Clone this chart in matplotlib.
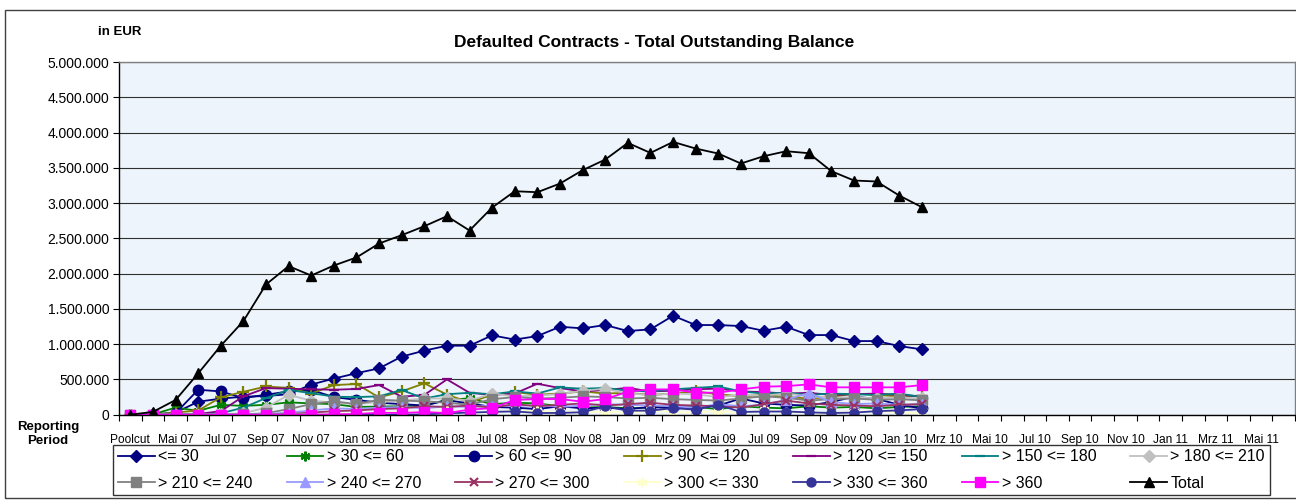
import numpy as np
import matplotlib
matplotlib.use("Agg")
import matplotlib.pyplot as plt
from matplotlib.patches import Rectangle
from matplotlib.ticker import FuncFormatter

plt.rcParams['font.family'] = ['Liberation Sans', 'DejaVu Sans']

# category axis: 52 reporting periods, every second one labelled
n_periods = 52
tick_labels = ["Poolcut", "Mai 07", "Jul 07", "Sep 07", "Nov 07", "Jan 08", "Mrz 08",
               "Mai 08", "Jul 08", "Sep 08", "Nov 08", "Jan 09", "Mrz 09", "Mai 09",
               "Jul 09", "Sep 09", "Nov 09", "Jan 10", "Mrz 10", "Mai 10", "Jul 10",
               "Sep 10", "Nov 10", "Jan 11", "Mrz 11", "Mai 11"]

# outstanding balance per bucket (in thousand EUR), Poolcut .. Feb 10
le_30 = [0, 5, 30, 184, 228, 255, 265, 290, 428, 512, 588, 657, 824, 908, 978, 978, 1125, 1065,
         1115, 1247, 1224, 1271, 1186, 1210, 1403, 1271, 1271, 1257, 1190, 1247, 1129, 1129,
         1044, 1044, 973, 926]
b30_60 = [0, 5, 100, 55, 140, 125, 140, 175, 160, 150, 110, 115, 120, 130, 210, 232, 150, 170,
          160, 120, 100, 110, 90, 100, 130, 110, 80, 120, 100, 90, 120, 100, 110, 90, 110, 120]
b60_90 = [0, 0, 20, 354, 330, 236, 283, 330, 350, 250, 210, 170, 150, 130, 205, 160, 110, 100,
          80, 120, 90, 100, 80, 110, 90, 100, 130, 230, 160, 140, 130, 180, 255, 225, 140, 90]
b90_120 = [0, 0, 30, 60, 245, 325, 400, 380, 300, 420, 435, 245, 330, 445, 285, 175, 280, 321,
           283, 300, 330, 300, 310, 280, 300, 330, 290, 260, 280, 250, 230, 250, 300, 280, 260, 270]
b120_150 = [0, 0, 0, 10, 50, 260, 377, 368, 360, 354, 365, 420, 255, 280, 500, 311, 280, 300,
            439, 377, 330, 350, 380, 330, 340, 360, 370, 330, 320, 300, 310, 280, 290, 300, 280, 260]
b150_180 = [0, 0, 0, 5, 20, 100, 236, 350, 306, 255, 250, 260, 350, 230, 290, 311, 290, 330,
            300, 387, 368, 380, 340, 330, 360, 380, 400, 330, 300, 310, 280, 300, 290, 280, 300, 250]
b180_210 = [0, 0, 0, 0, 5, 20, 100, 280, 200, 170, 150, 180, 200, 230, 230, 200, 300, 260,
            270, 292, 340, 368, 300, 280, 300, 290, 250, 280, 270, 300, 260, 240, 250, 230, 245, 230]
b210_240 = [0, 0, 0, 0, 0, 5, 20, 80, 150, 190, 150, 212, 200, 190, 170, 140, 220, 250,
            230, 240, 260, 250, 230, 240, 220, 210, 200, 230, 260, 240, 200, 220, 230, 210, 220, 203]
b240_270 = [0, 0, 0, 0, 0, 0, 10, 30, 60, 90, 80, 100, 110, 90, 120, 110, 130, 120,
            140, 110, 130, 150, 140, 130, 120, 100, 150, 120, 140, 212, 307, 180, 150, 160, 140, 150]
b270_300 = [0, 0, 0, 0, 0, 0, 0, 10, 30, 50, 60, 80, 90, 120, 110, 130, 100, 150,
            120, 140, 160, 130, 150, 170, 140, 130, 120, 100, 150, 200, 160, 140, 130, 120, 140, 150]
b300_330 = [0, 0, 0, 0, 0, 0, 0, 0, 5, 10, 20, 30, 40, 30, 50, 40, 30, 60,
            50, 40, 30, 50, 20, 60, 40, 30, 50, 20, 60, 40, 30, 20, 40, 50, 30, 20]
b330_360 = [0, 0, 0, 0, 0, 0, 0, 0, 0, 0, 0, 0, 0, 5, 20, 30, 40, 47,
            24, 25, 35, 118, 57, 57, 94, 71, 142, 38, 45, 45, 33, 24, 30, 50, 61, 80]
gt_360 = [0, 0, 0, 0, 0, 0, 0, 0, 0, 5, 10, 28, 24, 38, 24, 71, 94, 208,
          222, 222, 184, 222, 326, 359, 359, 312, 312, 359, 397, 405, 430, 388, 388, 388, 388, 420]
total = [0, 40, 208, 585, 977, 1327, 1846, 2106, 1973, 2115, 2229, 2427, 2545, 2672, 2814, 2611,
         2937, 3168, 3154, 3277, 3466, 3617, 3853, 3711, 3867, 3773, 3702, 3561, 3664, 3735, 3707,
         3452, 3320, 3306, 3107, 2942]

series = [
    ("<= 30", le_30, "#000080", "D", 6),
    ("> 30 <= 60", b30_60, "#008000", (6, 2, 0), 7),
    ("> 60 <= 90", b60_90, "#000080", "o", 7.5),
    ("> 90 <= 120", b90_120, "#808000", "+", 8),
    ("> 120 <= 150", b120_150, "#800080", "_", 7),
    ("> 150 <= 180", b150_180, "#008080", "_", 7),
    ("> 180 <= 210", b180_210, "#C0C0C0", "D", 6),
    ("> 210 <= 240", b210_240, "#808080", "s", 6.5),
    ("> 240 <= 270", b240_270, "#9999FF", "^", 7),
    ("> 270 <= 300", b270_300, "#993366", "x", 6),
    ("> 300 <= 330", b300_330, "#FFFFCC", (6, 2, 0), 7),
    ("> 330 <= 360", b330_360, "#333399", "o", 6.5),
    ("> 360", gt_360, "#FF00FF", "s", 7),
    ("Total", total, "#000000", "^", 7.5),
]

fig = plt.figure(figsize=(12.96, 5.04), dpi=100)
ax = fig.add_axes([119 / 1296, 89.3 / 504, 1176 / 1296, 352.7 / 504])
ax.set_facecolor("#EDF4FB")

handles = []
for name, vals, col, mk, ms in series:
    x = np.arange(len(vals))
    y = np.array(vals) * 1000
    mew = 1.6 if mk in ("+", "x", "_") or isinstance(mk, tuple) else 1
    h, = ax.plot(x, y, color=col, marker=mk, markersize=ms, markerfacecolor=col,
                 markeredgecolor=col, markeredgewidth=mew, lw=1.3, label=name)
    handles.append(h)

ax.set_xlim(-0.5, n_periods - 0.5)
ax.set_ylim(0, 5000000)
ax.set_yticks(np.arange(0, 5000001, 500000))
ax.yaxis.set_major_formatter(FuncFormatter(lambda v, p: f"{v:,.0f}".replace(",", ".")))
ax.grid(axis="y", color="#303030", lw=0.8)
ax.set_axisbelow(True)

ax.set_xticks(np.arange(0, n_periods, 2))
ax.set_xticklabels(tick_labels)
ax.set_xticks(np.arange(-0.5, n_periods, 1), minor=True)
ax.tick_params(axis="x", which="major", length=0, pad=14, labelsize=8.6)
ax.tick_params(axis="x", which="minor", length=4, width=0.8, direction="out")
ax.tick_params(axis="y", length=4, width=0.8, labelsize=10, pad=3)

for s in ("left", "bottom"):
    ax.spines[s].set_color("black")
    ax.spines[s].set_linewidth(1)
for s in ("top", "right"):
    ax.spines[s].set_color("#808080")
    ax.spines[s].set_linewidth(1)

fig.text(654 / 1296, 1 - 42 / 504, "Defaulted Contracts - Total Outstanding Balance",
         ha="center", va="center", fontsize=12.5, fontweight="bold")
fig.text(120 / 1296, 1 - 32 / 504, "in EUR", ha="center", va="center",
         fontsize=9.5, fontweight="bold")
fig.text(48 / 1296, 1 - 434 / 504, "Reporting\nPeriod", ha="center", va="center",
         fontsize=9.5, fontweight="bold", linespacing=1.3)

# row-wise legend order: 7 columns, 2 rows
order = []
for i in range(7):
    order += [i, i + 7]
leg = fig.legend([handles[i] for i in order], [series[i][0] for i in order],
                 ncol=7, loc="center", bbox_to_anchor=(691.5 / 1296, 1 - 470 / 504),
                 fontsize=11.5, frameon=True, fancybox=False, handlelength=2.3,
                 handletextpad=0.2, columnspacing=2.15, labelspacing=0.7, borderpad=0.3)
leg.get_frame().set_edgecolor("black")
leg.get_frame().set_linewidth(1)

fig.patches.append(Rectangle((5 / 1296, 6 / 504), 1.0, 488 / 504, transform=fig.transFigure,
                             fill=False, edgecolor="#404040", lw=1))

fig.savefig("out.png", dpi=100)
